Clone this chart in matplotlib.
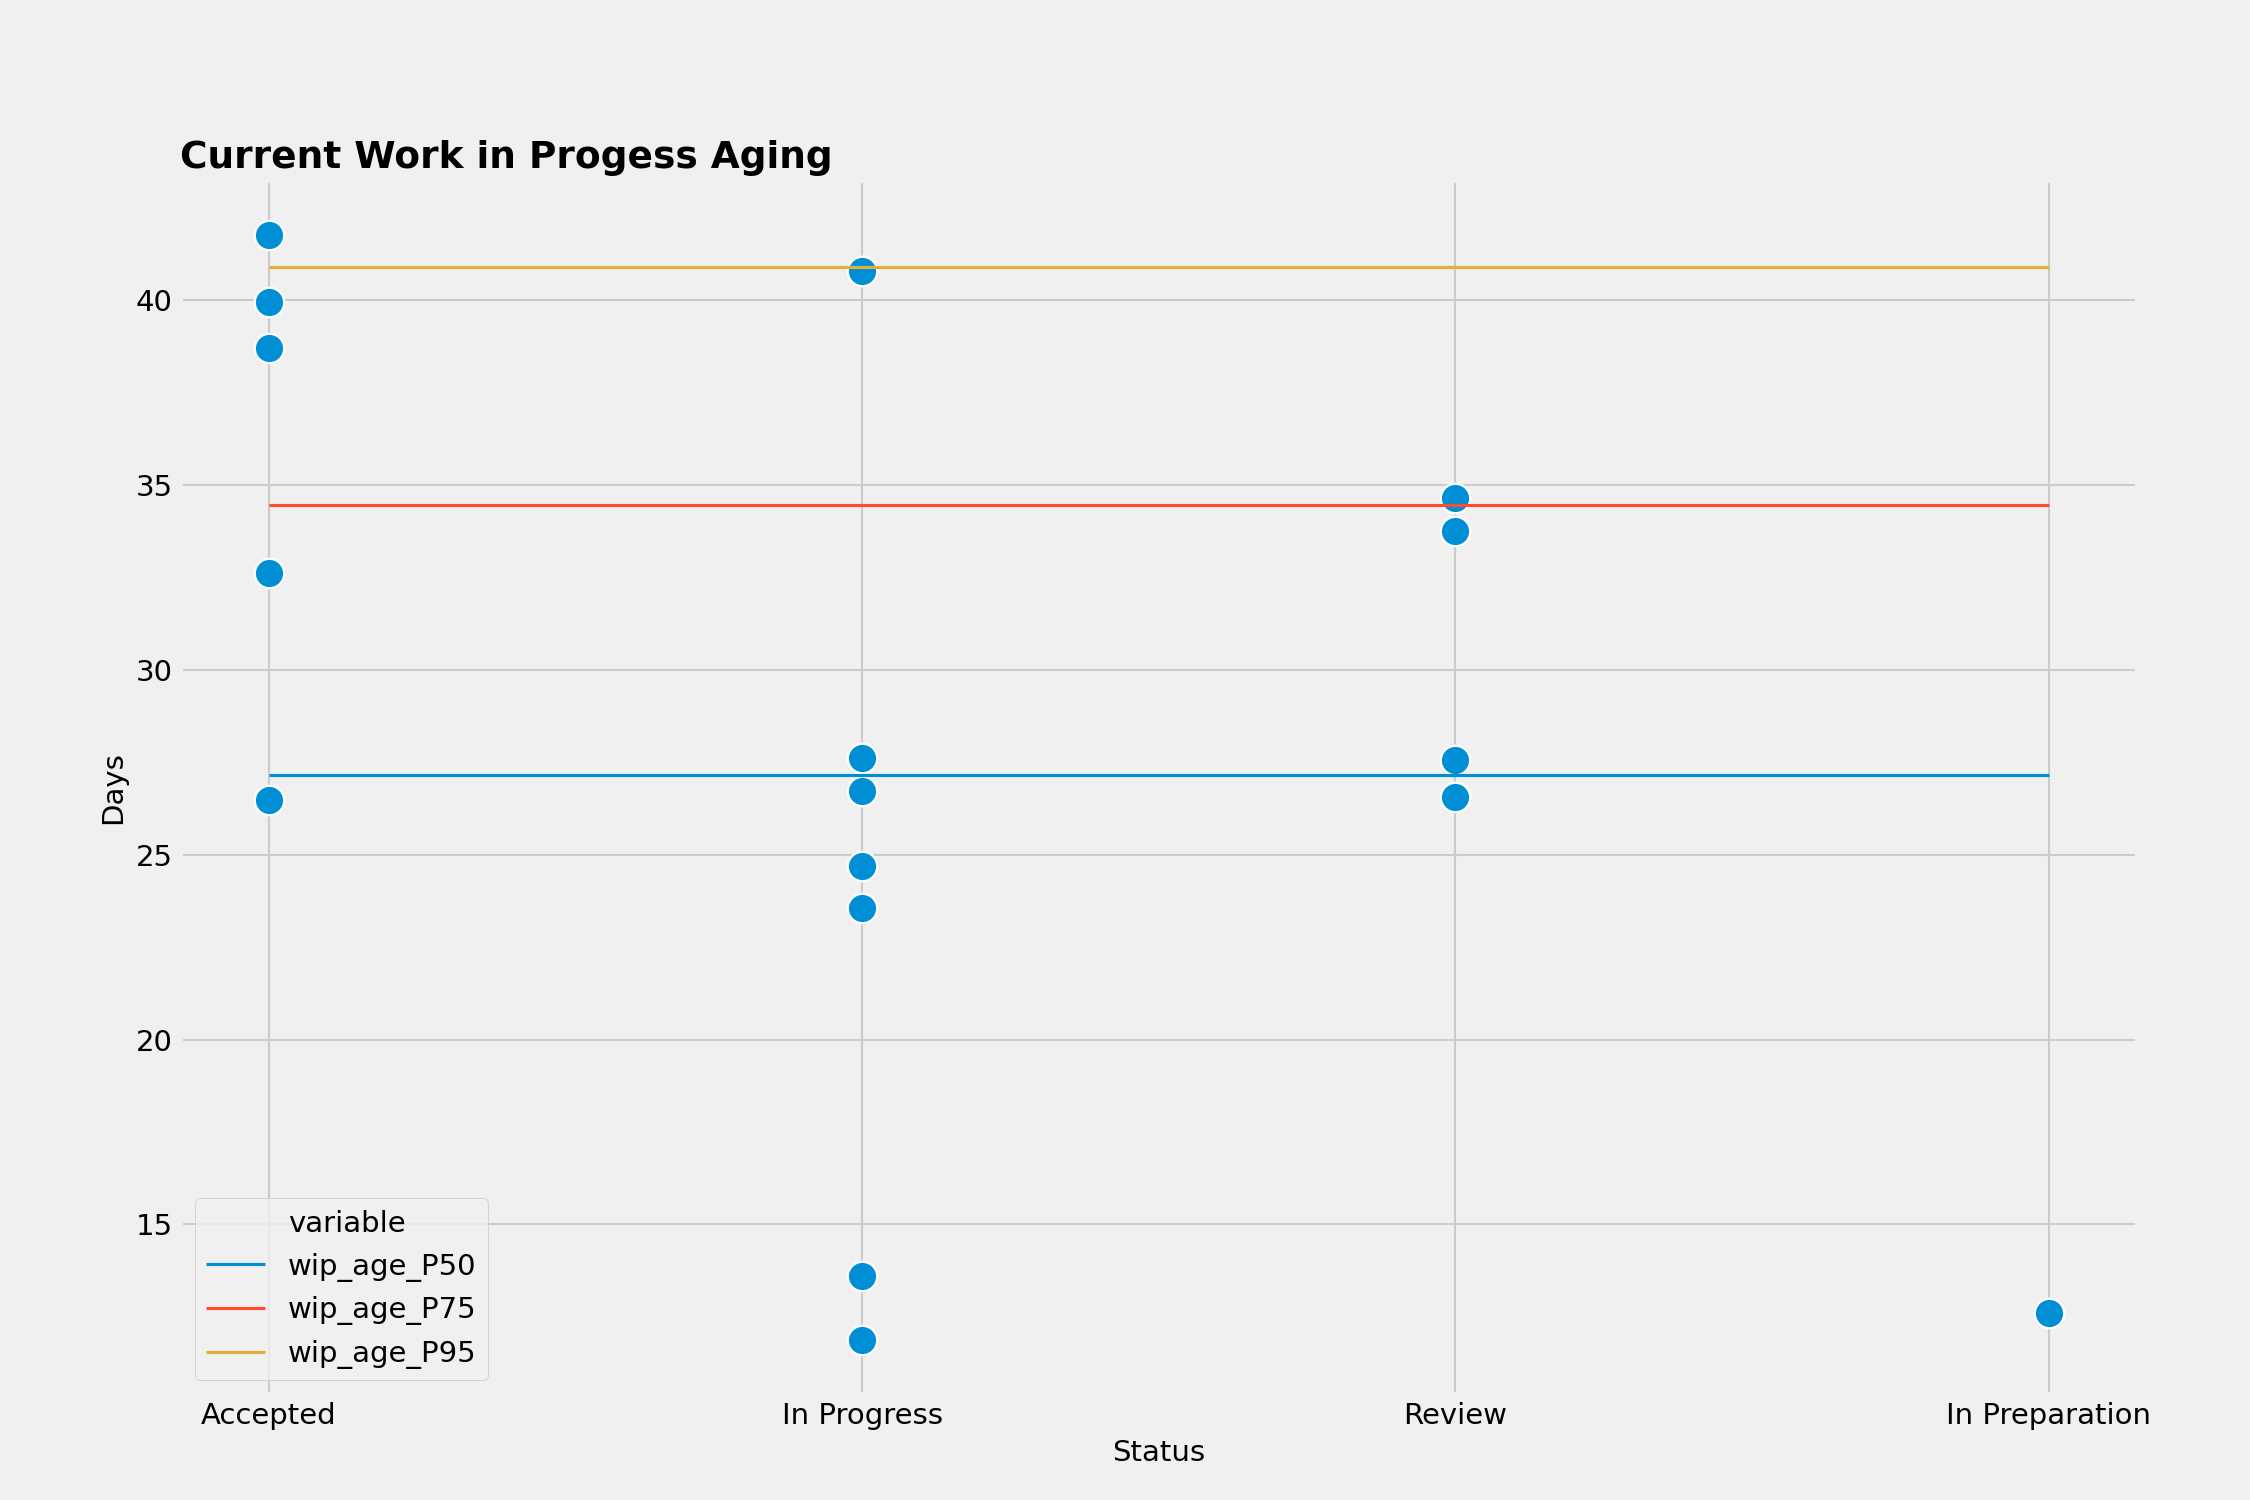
import numpy as np
import matplotlib
matplotlib.use("Agg")
import matplotlib.pyplot as plt
from matplotlib.lines import Line2D

plt.style.use('fivethirtyeight')

statuses = ["Accepted", "In Progress", "Review", "In Preparation"]

# wip age in days for each item
accepted_days = [41.75, 39.95, 38.7, 32.62, 26.48]
in_progress_days = [40.78, 27.6, 26.72, 24.7, 23.55, 13.6, 11.88]
review_days = [34.65, 33.75, 27.57, 26.55]
in_preparation_days = [12.6]

percentile_names = ["wip_age_P50", "wip_age_P75", "wip_age_P95"]
percentile_values = [27.15, 34.45, 40.9]

days_by_status = [accepted_days, in_progress_days, review_days, in_preparation_days]

fig, ax = plt.subplots(1, 1, figsize=(15, 10), dpi=150)

xs = []
ys = []
for status, days in zip(statuses, days_by_status):
    xs += [status] * len(days)
    ys += days
ax.scatter(xs, ys, s=200, color='#008fd5', edgecolor='white', linewidth=1.1, zorder=2)

handles = [Line2D([], [], linestyle='none')]
labels = ["variable"]
colors = ['#008fd5', '#fc4f30', '#e5ae38']
for name, value, c in zip(percentile_names, percentile_values, colors):
    line, = ax.plot(statuses, np.full(len(statuses), value), color=c,
                    linewidth=1.5, zorder=3)
    handles.append(line)
    labels.append(name)

ax.legend(handles, labels, loc='lower left')
ax.set_title('Current Work in Progess Aging', loc='left', fontweight='bold', fontsize=18)
ax.set_xlabel('Status', fontsize=14)
ax.set_ylabel('Days', fontsize=14)

fig.savefig('out.png', dpi=150)
